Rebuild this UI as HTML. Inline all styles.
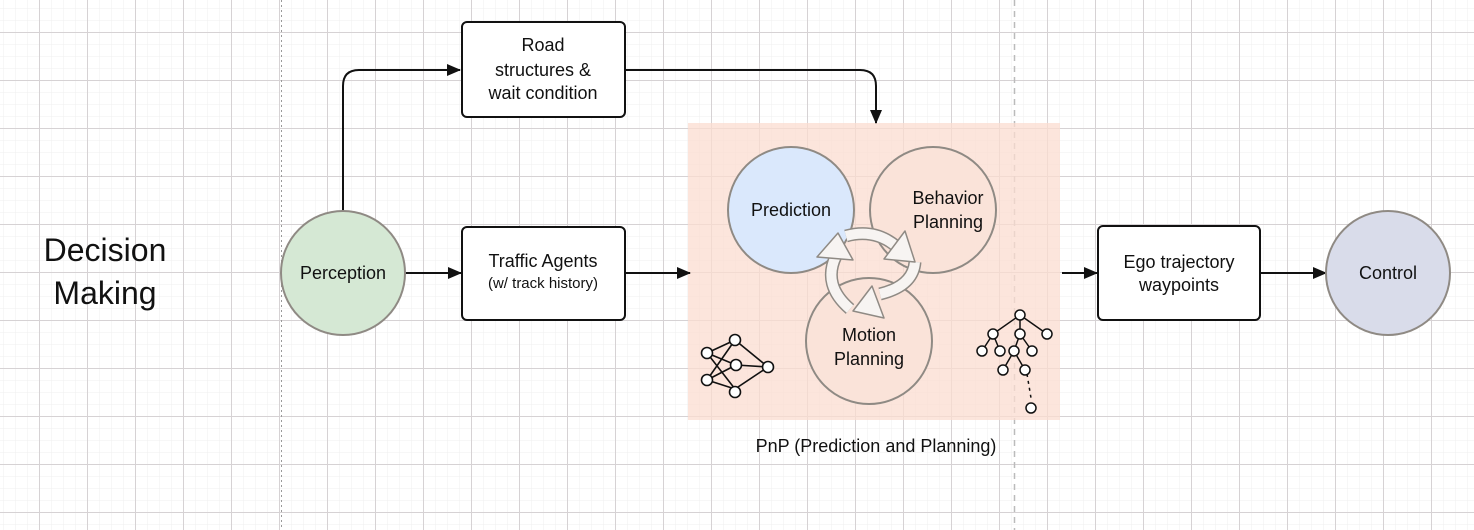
<!DOCTYPE html>
<html><head><meta charset="utf-8"><style>
html,body{margin:0;padding:0;background:#fff;}
svg{display:block;font-family:"Liberation Sans",Arial,sans-serif;}
</style></head><body>
<svg width="1474" height="530" viewBox="0 0 1474 530" xmlns="http://www.w3.org/2000/svg">
<defs>
<pattern id="minor" x="3" y="-4" width="12" height="12" patternUnits="userSpaceOnUse">
<path d="M0 0H12M0 0V12" stroke="#efefef" stroke-width="1" fill="none"/>
</pattern>
<pattern id="major" x="39" y="32" width="48" height="48" patternUnits="userSpaceOnUse">
<path d="M0 0.5H48M0.5 0V48" stroke="#d6d2d4" stroke-width="1" fill="none"/>
</pattern>
<marker id="ar" markerWidth="14" markerHeight="12" refX="13" refY="6" orient="auto" markerUnits="userSpaceOnUse">
<path d="M0 0L14 6L0 12Z" fill="#111"/>
</marker>
</defs>
<rect width="1474" height="530" fill="#fff"/>
<rect width="1474" height="530" fill="url(#minor)"/>
<rect width="1474" height="530" fill="url(#major)"/>
<line x1="281.5" y1="0" x2="281.5" y2="530" stroke="#999" stroke-width="1" stroke-dasharray="2,3"/>
<line x1="1014.5" y1="0" x2="1014.5" y2="530" stroke="#bbb" stroke-width="1.5" stroke-dasharray="6,5"/>

<text x="105" y="261" font-size="32" text-anchor="middle" fill="#111">Decision</text>
<text x="105" y="304" font-size="32" text-anchor="middle" fill="#111">Making</text>

<rect x="688" y="123" width="372" height="297" fill="#fbdcd0" opacity="0.75"/>
<text x="876" y="452" font-size="18" text-anchor="middle" fill="#111">PnP (Prediction and Planning)</text>

<path d="M343 211V86Q343 70 359 70H460" fill="none" stroke="#111" stroke-width="2" marker-end="url(#ar)"/>
<path d="M625 70H860Q876 70 876 86V123" fill="none" stroke="#111" stroke-width="2" marker-end="url(#ar)"/>
<line x1="405" y1="273" x2="461" y2="273" stroke="#111" stroke-width="2" marker-end="url(#ar)"/>
<line x1="625" y1="273" x2="690" y2="273" stroke="#111" stroke-width="2" marker-end="url(#ar)"/>
<line x1="1062" y1="273" x2="1097" y2="273" stroke="#111" stroke-width="2" marker-end="url(#ar)"/>
<line x1="1260" y1="273" x2="1326" y2="273" stroke="#111" stroke-width="2" marker-end="url(#ar)"/>

<rect x="462" y="22" width="163" height="95" rx="5" fill="#fff" stroke="#111" stroke-width="2"/>
<text x="543" y="51" font-size="18" text-anchor="middle" fill="#111">Road</text>
<text x="543" y="76" font-size="18" text-anchor="middle" fill="#111">structures &amp;</text>
<text x="543" y="99" font-size="18" text-anchor="middle" fill="#111">wait condition</text>

<rect x="462" y="227" width="163" height="93" rx="5" fill="#fff" stroke="#111" stroke-width="2"/>
<text x="543" y="267" font-size="18" text-anchor="middle" fill="#111">Traffic Agents</text>
<text x="543" y="288" font-size="15" text-anchor="middle" fill="#111">(w/ track history)</text>

<rect x="1098" y="226" width="162" height="94" rx="5" fill="#fff" stroke="#111" stroke-width="2"/>
<text x="1179" y="268" font-size="18" text-anchor="middle" fill="#111">Ego trajectory</text>
<text x="1179" y="291" font-size="18" text-anchor="middle" fill="#111">waypoints</text>

<circle cx="343" cy="273" r="62" fill="#d5e8d4" stroke="#8f8a84" stroke-width="2"/>
<text x="343" y="279" font-size="18" text-anchor="middle" fill="#111">Perception</text>
<circle cx="1388" cy="273" r="62" fill="#d9dcea" stroke="#8f8a84" stroke-width="2"/>
<text x="1388" y="279" font-size="18" text-anchor="middle" fill="#111">Control</text>

<circle cx="791" cy="210" r="63" fill="#dae8fc" stroke="#8f8a84" stroke-width="2"/>
<text x="791" y="216" font-size="18" text-anchor="middle" fill="#111">Prediction</text>
<circle cx="933" cy="210" r="63" fill="#fae3d9" stroke="#8f8a84" stroke-width="2"/>
<text x="948" y="204" font-size="18" text-anchor="middle" fill="#111">Behavior</text>
<text x="948" y="228" font-size="18" text-anchor="middle" fill="#111">Planning</text>
<circle cx="869" cy="341" r="63" fill="#fae3d9" stroke="#8f8a84" stroke-width="2"/>
<text x="869" y="341" font-size="18" text-anchor="middle" fill="#111">Motion</text>
<text x="869" y="365" font-size="18" text-anchor="middle" fill="#111">Planning</text>

<!-- cycle arrows -->
<g fill="none" stroke-linecap="butt">
<path d="M846 236Q875 228 897 247" stroke="#8f8a84" stroke-width="13"/>
<path d="M846 236Q875 228 897 247" stroke="#f7f4f2" stroke-width="10"/>
<path d="M915 262Q913 286 880 294" stroke="#8f8a84" stroke-width="13"/>
<path d="M915 262Q913 286 880 294" stroke="#f7f4f2" stroke-width="10"/>
<path d="M850 309Q822 285 836 256" stroke="#8f8a84" stroke-width="13"/>
<path d="M850 309Q822 285 836 256" stroke="#f7f4f2" stroke-width="10"/>
</g>
<g fill="#f7f4f2" stroke="#8f8a84" stroke-width="1.5" stroke-linejoin="round">
<path d="M884 259L905 231L915 262Z"/>
<path d="M872 286L884 318L853 311Z"/>
<path d="M817 257L853 260L838 233Z"/>
</g>

<g stroke="#111" stroke-width="1.6" fill="#fff">
<path d="M707 353L735 340M707 353L736 365M707 353L735 389M707 380L735 340M707 380L736 365M707 380L735 389M735 340L768 367M736 365L768 367M735 389L768 367" fill="none"/>
<circle cx="707" cy="353" r="5.5"/><circle cx="707" cy="380" r="5.5"/>
<circle cx="735" cy="340" r="5.5"/><circle cx="736" cy="365" r="5.5"/><circle cx="735" cy="392" r="5.5"/>
<circle cx="768" cy="367" r="5.5"/>
</g>

<g stroke="#111" stroke-width="1.5" fill="#fff">
<path d="M1020 315L993 334M1020 315L1020 334M1020 315L1047 334M993 334L982 351M993 334L1000 351M1020 334L1014 351M1020 334L1032 351M1014 351L1003 370M1014 351L1025 370" fill="none"/>
<path d="M1027 374L1031 398" fill="none" stroke-dasharray="3,4"/>
<circle cx="1020" cy="315" r="5"/>
<circle cx="993" cy="334" r="5"/><circle cx="1020" cy="334" r="5"/><circle cx="1047" cy="334" r="5"/>
<circle cx="982" cy="351" r="5"/><circle cx="1000" cy="351" r="5"/><circle cx="1014" cy="351" r="5"/><circle cx="1032" cy="351" r="5"/>
<circle cx="1003" cy="370" r="5"/><circle cx="1025" cy="370" r="5"/>
<circle cx="1031" cy="408" r="5"/>
</g>
</svg>
</body></html>
